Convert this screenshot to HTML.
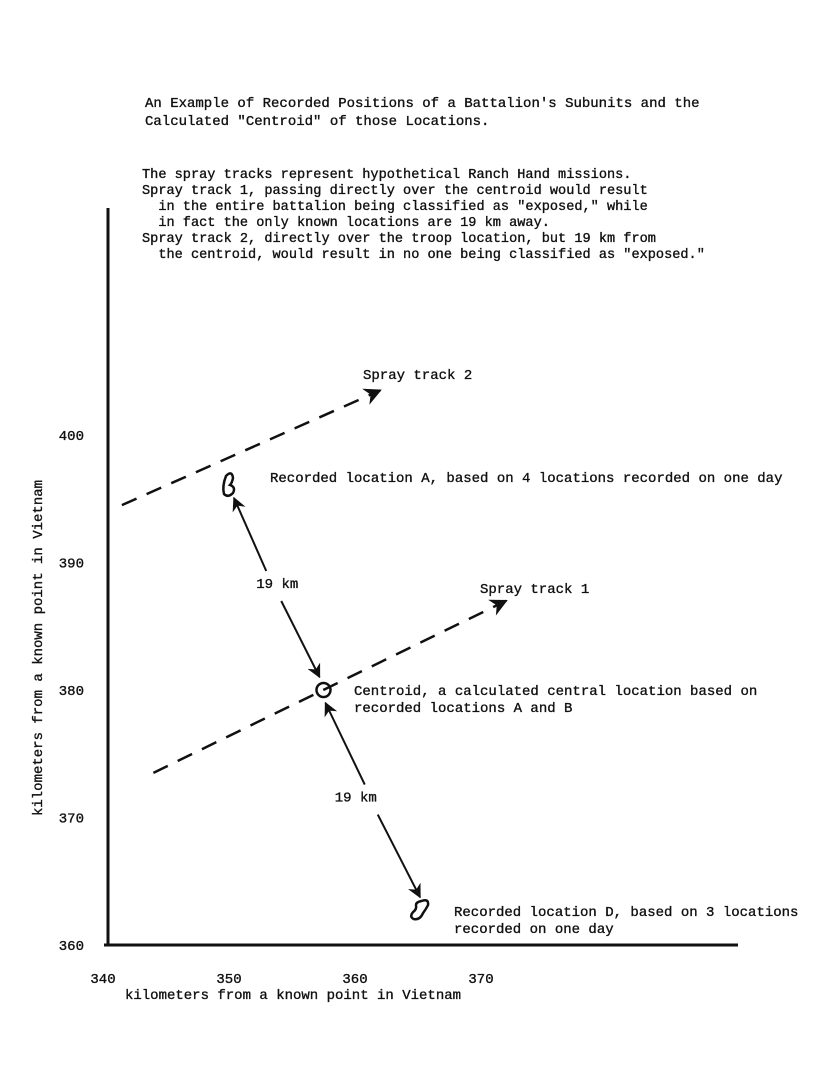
<!DOCTYPE html>
<html><head><meta charset="utf-8"><style>
body{margin:0;background:#fff}
svg{display:block}
text{font-family:"Liberation Mono",monospace;font-size:14px;fill:#111;stroke:#111;stroke-width:0.35;white-space:pre}
.d text{font-size:13.6px}
</style></head><body>
<svg id="c" width="825" height="1071">
<defs><marker id="ah" viewBox="0 0 10 10" refX="9" refY="5" markerWidth="7" markerHeight="7" orient="auto"><path d="M0,0 L10,5 L0,10 L3,5 Z" fill="#111"/></marker></defs>
<g>
<text x="145" y="107">An Example of Recorded Positions of a Battalion's Subunits and the</text>
<text x="145" y="125">Calculated "Centroid" of those Locations.</text>
</g>
<g class="d">
<text x="142" y="178">The spray tracks represent hypothetical Ranch Hand missions.</text>
<text x="142" y="194">Spray track 1, passing directly over the centroid would result</text>
<text x="142" y="210" xml:space="preserve">  in the entire battalion being classified as "exposed," while</text>
<text x="142" y="226" xml:space="preserve">  in fact the only known locations are 19 km away.</text>
<text x="142" y="242">Spray track 2, directly over the troop location, but 19 km from</text>
<text x="142" y="258" xml:space="preserve">  the centroid, would result in no one being classified as "exposed."</text>
</g>
<g id="plot"></g>
</svg>
<script>
const xTicks=[340,350,360,370];
const yTicks=[360,370,380,390,400];
const locNames=["A","centroid","D"];
const locX=[350,357.5,365];
const locY=[396,380,362.5];
const track1=[[344,373.5],[372,387]];
const track2=[[341.5,394.5],[362,403.5]];
const X=v=>103+(v-340)*12.6;
const Y=v=>945-(v-360)*12.75;
const g=document.getElementById('plot');
const NS='http://www.w3.org/2000/svg';
function mk(t,a,p){const e=document.createElementNS(NS,t);for(const k in a)e.setAttribute(k,a[k]);(p||g).appendChild(e);return e;}
let e;
e=mk('line',{x1:108,y1:208,x2:108,y2:945,stroke:'#111','stroke-width':3});


e=mk('line',{x1:104,y1:945,x2:738,y2:945,stroke:'#111','stroke-width':3});


xTicks.forEach(v=>{e=mk('text',{x:X(v),y:983,'text-anchor':'middle'});e.textContent=v;

});
yTicks.forEach(v=>{e=mk('text',{x:84,y:Y(v)+5,'text-anchor':'end'});e.textContent=v;

});
e=mk('text',{x:293,y:999,'text-anchor':'middle'});e.textContent='kilometers from a known point in Vietnam';


e=mk('text',{x:0,y:0,'text-anchor':'middle',transform:'translate(42,648) rotate(-90)'});e.textContent='kilometers from a known point in Vietnam';


[[track1,'spray-track-1'],[track2,'spray-track-2']].forEach(([t,n])=>{
e=mk('line',{x1:X(t[0][0]),y1:Y(t[0][1]),x2:X(t[1][0]),y2:Y(t[1][1]),stroke:'#111','stroke-width':2.5,'stroke-dasharray':'16,11','marker-end':'url(#ah)'});

});
e=mk('text',{x:363,y:379});e.textContent='Spray track 2';


e=mk('text',{x:480,y:593});e.textContent='Spray track 1';


const ax=X(locX[0]),ay=Y(locY[0]);
e=mk('path',{d:`M${ax-3},${ay-10} q6,-6 7,2 q-1,5 -3,7 q6,2 3,8 q-5,5 -9,1 q-2,-8 2,-18 z`,fill:'none',stroke:'#111','stroke-width':2.5});


const cx=X(locX[1]),cy=Y(locY[1]);
e=mk('circle',{cx:cx,cy:cy,r:7,fill:'none',stroke:'#111','stroke-width':2.5});


const dx=X(locX[2]),dy=Y(locY[2]);
e=mk('path',{d:`M${dx+3},${dy-12} q8,-3 7,4 q-2,4 -5,8 q-3,7 -9,6 q-5,-2 -1,-7 q4,-3 3,-7 q0,-3 5,-4 z`,fill:'none',stroke:'#111','stroke-width':2.5});


function arrow(x1,y1,x2,y2,name){
 e=mk('line',{x1,y1,x2,y2,stroke:'#111','stroke-width':2,'marker-end':'url(#ah)'});
 
 }
const mA=[(ax+cx)/2,(ay+cy)/2];
arrow(mA[0]-10,mA[1]-17,ax+5,ay+12,'arrow-to-a');
arrow(mA[0]+5,mA[1]+13,cx-4,cy-13,'arrow-to-centroid-from-a');
e=mk('text',{x:mA[0]-20,y:mA[1]});e.textContent='19 km';


const mD=[(cx+dx)/2,(cy+dy)/2];
arrow(mD[0]-6,mD[1]-17,cx+2,cy+13,'arrow-to-centroid-from-d');
arrow(mD[0]+7,mD[1]+13,dx+2,dy-16,'arrow-to-d');
e=mk('text',{x:mD[0]-36,y:mD[1]});e.textContent='19 km';


const labs=[[270,482,'Recorded location A, based on 4 locations recorded on one day','location-a-label'],
[354,695,'Centroid, a calculated central location based on','centroid-label'],
[354,712,'recorded locations A and B','centroid-label-line2'],
[454,916,'Recorded location D, based on 3 locations','location-d-label'],
[454,933,'recorded on one day','location-d-label-line2']];
labs.forEach(l=>{e=mk('text',{x:l[0],y:l[1]});e.textContent=l[2];

});
</script>
</body></html>
